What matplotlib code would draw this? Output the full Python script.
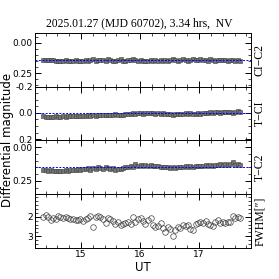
import numpy as np
import matplotlib
matplotlib.use('Agg')
import matplotlib.pyplot as plt
from matplotlib.ticker import MultipleLocator

# Temps UT (h)
ut = [14.36, 14.40, 14.44, 14.49, 14.53, 14.57, 14.61, 14.65, 14.70, 14.74,
      14.78, 14.82, 14.87, 14.91, 14.95, 14.99, 15.04, 15.08, 15.12, 15.16,
      15.20, 15.25, 15.29, 15.33, 15.37, 15.42, 15.46, 15.50, 15.54, 15.58,
      15.63, 15.67, 15.71, 15.75, 15.80, 15.84, 15.88, 15.92, 15.96, 16.01,
      16.05, 16.09, 16.13, 16.18, 16.22, 16.26, 16.30, 16.35, 16.39, 16.43,
      16.47, 16.51, 16.56, 16.60, 16.64, 16.68, 16.73, 16.77, 16.81, 16.85,
      16.89, 16.94, 16.98, 17.02, 17.06, 17.11, 17.15, 17.19, 17.23, 17.27,
      17.32, 17.36, 17.40, 17.44, 17.49, 17.53, 17.57, 17.61, 17.66, 17.70]

ci_c2 = [0.138, 0.142, 0.145, 0.140, 0.143, 0.147, 0.146, 0.150, 0.148, 0.145,
         0.149, 0.146, 0.150, 0.144, 0.147, 0.152, 0.148, 0.145, 0.150, 0.143,
         0.137, 0.146, 0.141, 0.139, 0.142, 0.148, 0.135, 0.141, 0.147, 0.150,
         0.145, 0.133, 0.146, 0.149, 0.139, 0.143, 0.137, 0.144, 0.147, 0.140,
         0.146, 0.150, 0.152, 0.144, 0.148, 0.141, 0.147, 0.145, 0.150, 0.143,
         0.146, 0.140, 0.137, 0.144, 0.148, 0.139, 0.133, 0.143, 0.147, 0.141,
         0.130, 0.138, 0.145, 0.133, 0.143, 0.140, 0.146, 0.137, 0.142, 0.148,
         0.140, 0.145, 0.138, 0.143, 0.147, 0.140, 0.145, 0.149, 0.143, 0.146]

t_ci = [0.025, 0.030, 0.028, 0.032, 0.030, 0.027, 0.029, 0.031, 0.026, 0.028,
        0.024, 0.027, 0.025, 0.022, 0.026, 0.023, 0.020, 0.024, 0.018, 0.021,
        0.017, 0.020, 0.013, 0.019, 0.016, 0.014, 0.018, 0.012, 0.016, 0.010,
        0.015, 0.013, 0.017, 0.011, 0.005, 0.009, 0.004, 0.007, 0.003, 0.002,
        0.005, 0.001, 0.004, -0.002, 0.003, 0.006, 0.001, 0.008, 0.004, 0.007,
        0.010, 0.006, 0.012, 0.008, 0.011, 0.006, 0.009, 0.003, 0.007, 0.002,
        0.005, 0.009, 0.004, 0.007, 0.001, -0.003, 0.002, -0.005, 0.000, -0.004,
        -0.008, -0.003, -0.006, -0.010, -0.004, -0.008, -0.002, -0.007, -0.011, -0.005]

t_c2 = [0.168, 0.172, 0.175, 0.170, 0.178, 0.176, 0.180, 0.174, 0.177, 0.172,
        0.175, 0.170, 0.168, 0.173, 0.165, 0.168, 0.160, 0.163, 0.158, 0.166,
        0.152, 0.160, 0.148, 0.155, 0.162, 0.150, 0.156, 0.165, 0.158, 0.168,
        0.160, 0.163, 0.155, 0.145, 0.150, 0.140, 0.147, 0.128, 0.138, 0.133,
        0.140, 0.136, 0.142, 0.133, 0.138, 0.143, 0.140, 0.148, 0.145, 0.150,
        0.146, 0.152, 0.148, 0.155, 0.150, 0.145, 0.148, 0.142, 0.146, 0.140,
        0.144, 0.138, 0.143, 0.137, 0.141, 0.135, 0.140, 0.133, 0.138, 0.130,
        0.136, 0.128, 0.133, 0.125, 0.131, 0.127, 0.110, 0.132, 0.125, 0.130]

fwhm = [2.00, 1.90, 2.00, 2.15, 2.05, 2.10, 1.95, 2.00, 2.05, 2.00,
        2.05, 2.10, 2.10, 2.15, 2.15, 2.10, 2.20, 2.10, 2.05, 1.95,
        2.50, 2.00, 1.95, 2.00, 2.10, 2.30, 2.05, 2.10, 2.20, 2.35,
        2.25, 2.40, 2.35, 2.30, 2.25, 2.35, 2.00, 2.25, 2.10, 2.05,
        2.20, 2.35, 2.15, 2.05, 2.40, 2.50, 2.45, 2.30, 2.60, 2.80,
        2.50, 2.65, 3.00, 2.70, 2.55, 2.60, 2.40, 2.45, 2.40, 2.65,
        2.70, 2.35, 2.30, 2.25, 2.30, 2.20, 2.35, 2.40, 2.45, 2.25,
        2.15, 2.30, 2.25, 2.30, 2.25, 2.25, 1.95, 2.05, 2.00, 2.05]

err = 0.009
ref_levels = [0.143, 0.0, 0.150]
labels = ['CI\u2212C2', 'T\u2212CI', 'T\u2212C2']
ylims = [(0.36, -0.08), (0.21, -0.2), (0.35, -0.05)]
yticks = [[0.0, 0.25], [-0.2, 0.0, 0.2], [0.0, 0.25]]
yfmt = ['%.2f', '%.1f', '%.2f']

serif = ['Liberation Serif', 'DejaVu Serif']

fig, axs = plt.subplots(4, 1, sharex=True, figsize=(2.79, 2.79), dpi=100)
fig.subplots_adjust(left=0.125, right=0.90, top=0.882, bottom=0.111, hspace=0)

series = [ci_c2, t_ci, t_c2]
for k in range(3):
    ax = axs[k]
    ax.errorbar(ut, series[k], yerr=err, fmt='s', ms=2.4, mfc='0.45', mec='0.25',
                mew=0.4, ecolor='0.3', elinewidth=0.5, capsize=0, zorder=2)
    ax.axhline(ref_levels[k], color='blue', ls='--', lw=0.7, dashes=(2, 1.5), zorder=3)
    ax.set_ylim(*ylims[k])
    ax.set_yticks(yticks[k])
    ax.set_yticklabels([yfmt[k] % v for v in yticks[k]])
    ax.yaxis.set_minor_locator(MultipleLocator(0.05))
    ax.text(1.012, 0.5, labels[k], transform=ax.transAxes, rotation=90,
            ha='left', va='center', fontsize=8.5, family=serif)

ax = axs[3]
ax.plot(ut, fwhm, 'o', ms=4, mfc='none', mec='0.25', mew=0.5)
ax.set_ylim(3.6, 0.85)
ax.set_yticks([2, 3])
ax.yaxis.set_minor_locator(MultipleLocator(0.2))
ax.text(1.012, 0.5, 'FWHM[\u2033]', transform=ax.transAxes, rotation=90,
        ha='left', va='center', fontsize=8.5, family=serif)

ax.set_xlim(14.22, 17.88)
ax.xaxis.set_major_locator(MultipleLocator(1))
ax.xaxis.set_minor_locator(MultipleLocator(0.2))
ax.set_xlabel('UT', fontsize=8.5, labelpad=1)

for a in axs:
    a.tick_params(which='both', direction='in', top=True, right=True, labelsize=6.5, pad=1.5)
    a.tick_params(which='major', length=4, width=0.7)
    a.tick_params(which='minor', length=2, width=0.5)
    for s in a.spines.values():
        s.set_linewidth(0.7)

fig.text(0.004, 0.5, 'Differential magnitude', rotation=90, ha='left', va='center', fontsize=8.5)
fig.text(0.5, 0.918, '2025.01.27 (MJD 60702), 3.34 hrs,  NV', ha='center', va='center',
         fontsize=8.4, family=serif)

fig.savefig('out.png', dpi=100)
